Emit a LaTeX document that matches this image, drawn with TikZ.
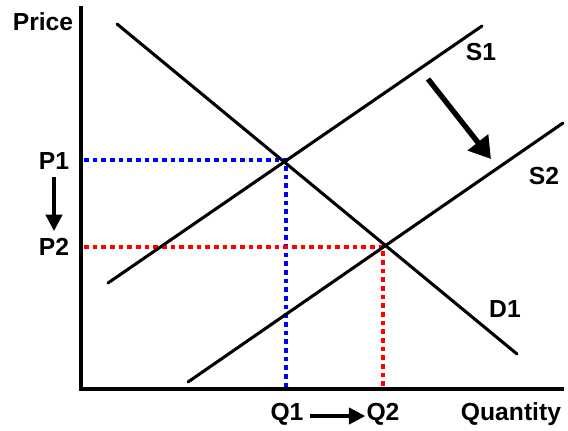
\documentclass[tikz,border=0pt]{standalone}
\usepackage{fontspec}
\setmainfont{Liberation Sans}[BoldFont={Liberation Sans Bold}]
\usetikzlibrary{arrows.meta,positioning,calc}
\tikzset{
  >={Triangle[length=3mm,width=3mm]},
  axis/.style={line width=2.6pt,line cap=rect},
  curve/.style={line width=2.3pt,line cap=round},
  lbl/.style={font=\fontsize{18.5}{20}\selectfont\bfseries,inner sep=0pt},
  guide/.style={line width=3.3pt,dash pattern=on 3.6pt off 2.9pt},
  shiftarrow/.style={-{Triangle[length=5.6mm,width=6.6mm]},line width=4pt},
  movearrow/.style={-{Triangle[length=4.3mm,width=4.3mm]},line width=2.4pt},
}
\begin{document}
\begin{tikzpicture}[x=0.75pt,y=-0.75pt]
  \useasboundingbox (0,0) rectangle (568,431);
  % axes
  \coordinate (o) at (81,389);
  \coordinate (ytop) at (81,8);
  \coordinate (xend) at (562,389);
  \draw[axis] (ytop) -- (o) -- (xend);
  % curves
  \coordinate (d1a) at (117,24);
  \coordinate (d1b) at (517,354);
  \coordinate (s1a) at (108,283);
  \coordinate (s1b) at (482,26);
  \coordinate (s2a) at (188,382);
  \coordinate (s2b) at (563,123);
  % equilibria
  \coordinate (e1) at (286,160);
  \coordinate (e2) at (383,247);
  \draw[guide,blue] (84,160) -- (e1) -- (e1 |- o);
  \draw[guide,red] (84,247) -- (e2) -- (e2 |- o);
  \draw[curve] (d1a) -- (d1b);
  \draw[curve] (s1a) -- (s1b);
  \draw[curve] (s2a) -- (s2b);
  % labels
  \node[lbl] (price) at (43,22) {Price};
  \node[lbl] (p1) at (54,161) {P1};
  \node[lbl] (p2) at (54,247) {P2};
  \node[lbl] (q1) at (287,414) {Q1};
  \node[lbl] (q2) at (383,414) {Q2};
  \node[lbl] (qty) at (511,414) {Quantity};
  \node[lbl] (s1) at (481,52) {S1};
  \node[lbl] (s2) at (544,176) {S2};
  \node[lbl] (d1) at (505,309) {D1};
  % shifts
  \coordinate (sh1) at (428,79);
  \coordinate (sh2) at (491,159);
  \draw[shiftarrow] (sh1) -- (sh2);
  \draw[movearrow] ($(p1)+(0,16)$) -- ($(p2)+(0,-16)$);
  \draw[movearrow] ($(q1.east)+(6,2)$) -- ($(q2.west)+(-1,2)$);
\end{tikzpicture}
\end{document}
